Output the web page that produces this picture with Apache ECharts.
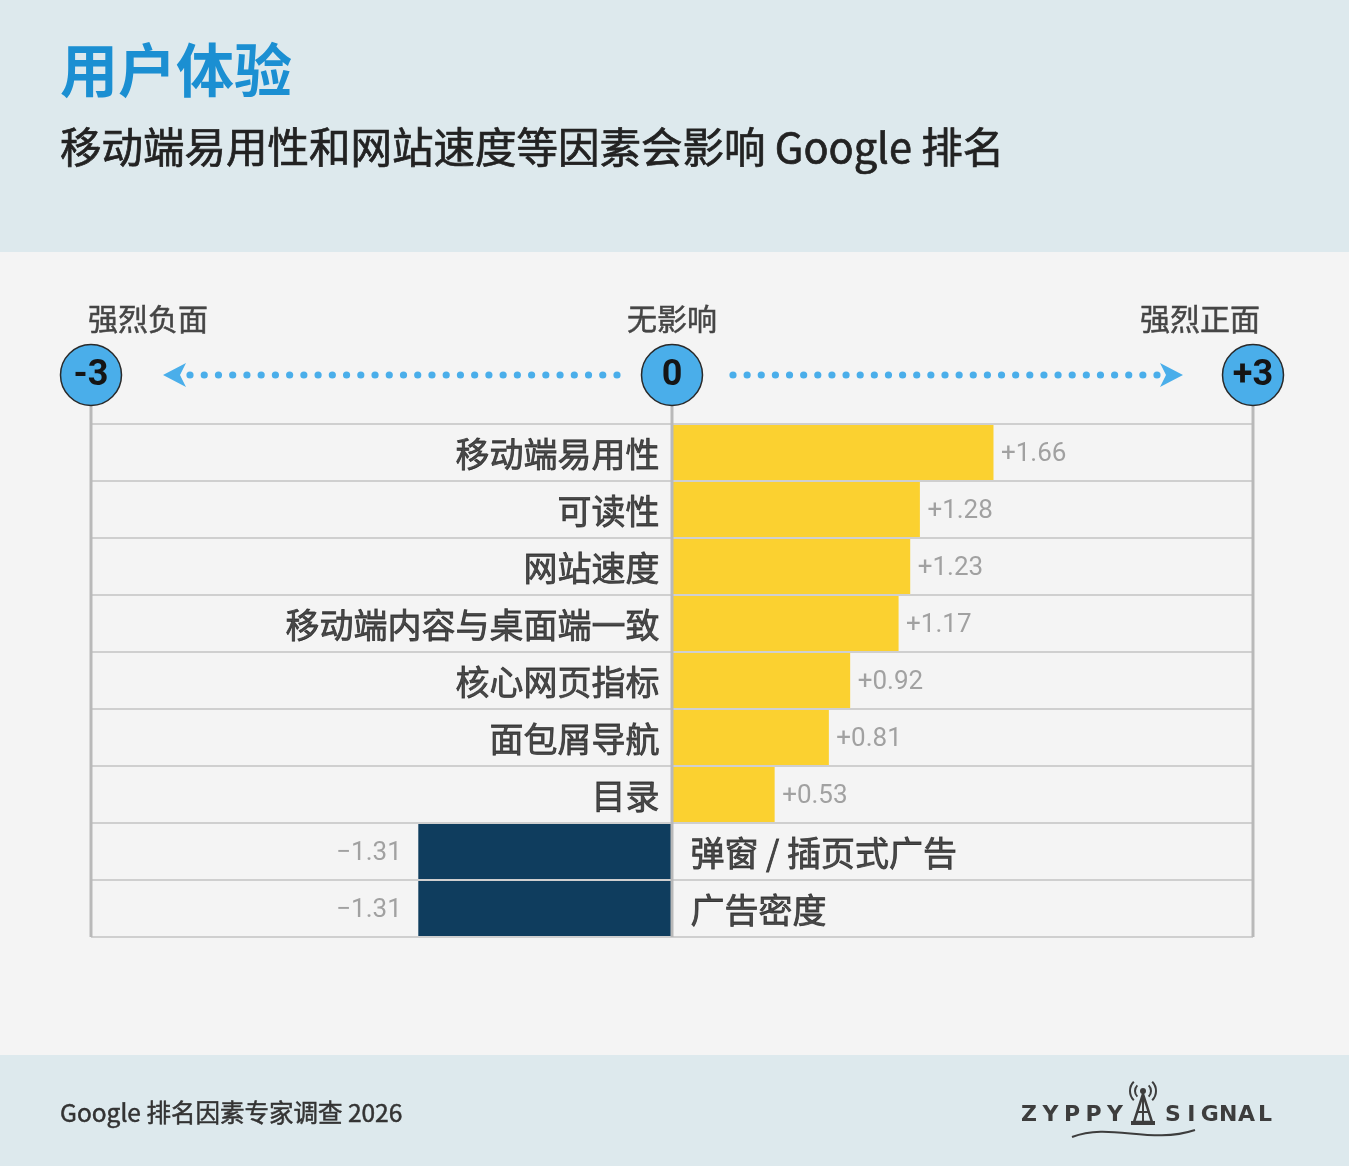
<!DOCTYPE html>
<html>
<head>
<meta charset="utf-8">
<script src="https://cdn.jsdelivr.net/npm/echarts@6/dist/echarts.min.js"></script>
<style>
html,body{margin:0;padding:0;background:#f4f4f4;}
#chart{width:1349px;height:1166px;}
</style>
</head>
<body>
<div id="chart"></div>
<script>
// ---- data ----
const categories = ['移动端易用性','可读性','网站速度','移动端内容与桌面端一致','核心网页指标','面包屑导航','目录','弹窗 / 插页式广告','广告密度'];
const values = [1.66, 1.28, 1.23, 1.17, 0.92, 0.81, 0.53, -1.31, -1.31];
const scaleTicks = [-3, 0, 3];
const scaleTickLabels = ['-3', '0', '+3'];
const scaleNames = ['强烈负面', '无影响', '强烈正面'];
const titleText = '用户体验';
const subtitleText = '移动端易用性和网站速度等因素会影响 Google 排名';
const sourceText = 'Google 排名因素专家调查 2026';

const POS = '#fbd130', NEG = '#0f3d5e';
const CJK = '"Noto Sans CJK SC", "Noto Sans", sans-serif';
const NUM = 'Roboto, "Noto Sans", sans-serif';

function fmt(v){ return v > 0 ? '+' + v.toFixed(2) : '\u2212' + Math.abs(v).toFixed(2); }

const chart = echarts.init(document.getElementById('chart'), null, {renderer:'canvas'});

const option = {
  backgroundColor: '#f4f4f4',
  animation: false,
  grid: {left: 91, right: 96, top: 424, height: 513, containLabel: false},
  xAxis: {
    type: 'value', min: -3, max: 3, interval: 3,
    axisLabel: {show: false}, axisLine: {show: false}, axisTick: {show: false},
    splitLine: {show: false}
  },
  yAxis: {
    type: 'category', data: categories, inverse: true,
    axisLabel: {show: false}, axisLine: {show: false}, axisTick: {show: false},
    splitLine: {show: true, interval: 0, lineStyle: {color: '#cfcfcf', width: 2}}
  },
  series: [
    {
      type: 'bar',
      data: values.map(v => ({value: v, itemStyle: {color: v >= 0 ? POS : NEG}})),
      barWidth: 55,
      z: 2
    },
    {
      type: 'scatter',
      data: values.map((v, i) => ({
        value: [0, categories[i]],
        label: {position: v >= 0 ? 'left' : 'right', distance: v >= 0 ? 12 : 18}
      })),
      symbolSize: 1,
      itemStyle: {color: 'transparent'},
      label: {show: true, offset: [0, 2], formatter: p => categories[p.dataIndex], fontFamily: CJK, fontSize: 34, color: '#1e1e1e', textBorderColor: '#1e1e1e', textBorderWidth: 0.8},
      z: 5
    },
    {
      type: 'scatter',
      data: values.map((v, i) => ({
        value: [v, categories[i]],
        label: {position: v >= 0 ? 'right' : 'left', distance: v >= 0 ? 7 : 16}
      })),
      symbolSize: 1,
      itemStyle: {color: 'transparent'},
      label: {show: true, offset: [0, 2], formatter: p => fmt(values[p.dataIndex]), fontFamily: NUM, fontSize: 26, color: '#8c8c8c'},
      z: 5
    }
  ]
};
chart.setOption(option);

// ---- decorations positioned through the axis scale ----
const xs = scaleTicks.map(t => chart.convertToPixel({xAxisIndex: 0}, t));
const gridBottom = 937;
const cy = 375, r = 30.5;
const L = xs[0], Z = xs[1], R = xs[2];
const g = [];

g.push({type:'rect', z:-10, shape:{x:0,y:0,width:1349,height:252}, style:{fill:'#dde9ed'}});
g.push({type:'rect', z:-10, shape:{x:0,y:1055,width:1349,height:111}, style:{fill:'#dde9ed'}});

g.push({type:'text', z:10, x:60, y:70, style:{text:titleText, font:'bold 58px ' + CJK, fill:'#1b8fd2', textVerticalAlign:'middle'}});
g.push({type:'text', z:10, x:60, y:147, style:{text:subtitleText, font:'41.5px ' + CJK, fill:'#222', stroke:'#222', lineWidth:0.7, textVerticalAlign:'middle'}});

const nameStyle = {font:'30px ' + CJK, fill:'#454545', stroke:'#454545', lineWidth:0.5, textVerticalAlign:'middle'};
g.push({type:'text', z:10, x:88, y:319, style:Object.assign({text:scaleNames[0], textAlign:'left'}, nameStyle)});
g.push({type:'text', z:10, x:Z, y:319, style:Object.assign({text:scaleNames[1], textAlign:'center'}, nameStyle)});
g.push({type:'text', z:10, x:1260, y:319, style:Object.assign({text:scaleNames[2], textAlign:'right'}, nameStyle)});

xs.forEach(x => {
  g.push({type:'line', z:20, shape:{x1:x, y1:cy + r, x2:x, y2:gridBottom}, style:{stroke:'#b9b9b9', lineWidth:3}});
});

xs.forEach((x, i) => {
  g.push({type:'circle', z:30, shape:{cx:x, cy:cy, r:r}, style:{fill:'#4aaeea', stroke:'#2a2a2a', lineWidth:1.5}});
  g.push({type:'text', z:31, x:x, y:cy + 1, style:{text:scaleTickLabels[i], font:'bold 36px ' + NUM, fill:'#151515', textAlign:'center', textVerticalAlign:'middle'}});
});

const DOT = '#4aaeea';
function dots(x0, x1, n){ for (let k = 0; k < n; k++) { const x = x0 + (x1 - x0) * k / (n - 1); g.push({type:'circle', z:10, shape:{cx:x, cy:cy, r:3.6}, style:{fill:DOT}}); } }
dots(L + 99, Z - 55, 31);
dots(Z + 61, R - 96, 31);
g.push({type:'polygon', z:10, shape:{points:[[L+72,cy],[L+95,cy-12],[L+89,cy],[L+95,cy+12]]}, style:{fill:DOT}});
g.push({type:'polygon', z:10, shape:{points:[[R-70,cy],[R-93,cy-12],[R-87,cy],[R-93,cy+12]]}, style:{fill:DOT}});

g.push({type:'text', z:10, x:60, y:1113, style:{text:sourceText, font:'24.5px ' + CJK, fill:'#333', stroke:'#333', lineWidth:0.5, textVerticalAlign:'middle'}});

// logo
const logoFont = 'bold 22px "DejaVu Sans", sans-serif';
[...'ZYPPY'].forEach((c, i) => g.push({type:'text', z:10, x:1029 + i*21.5, y:1115, style:{text:c, font:logoFont, fill:'#3d3d3d', textAlign:'center', textVerticalAlign:'middle'}}));
[...'SIGNAL'].forEach((c, i) => g.push({type:'text', z:10, x:1173 + i*18.4, y:1115, style:{text:c, font:logoFont, fill:'#3d3d3d', textAlign:'center', textVerticalAlign:'middle'}}));
g.push({type:'polygon', z:10, shape:{points:[[1143,1094],[1134,1122],[1152,1122]]}, style:{fill:'none', stroke:'#3d3d3d', lineWidth:2.5}});
g.push({type:'line', z:10, shape:{x1:1143,y1:1094,x2:1143,y2:1122}, style:{stroke:'#3d3d3d', lineWidth:2}});
g.push({type:'line', z:10, shape:{x1:1137,y1:1112,x2:1149,y2:1112}, style:{stroke:'#3d3d3d', lineWidth:2}});
g.push({type:'rect', z:10, shape:{x:1131,y:1121,width:24,height:4}, style:{fill:'#3d3d3d'}});
g.push({type:'circle', z:10, shape:{cx:1143,cy:1091,r:3}, style:{fill:'#3d3d3d'}});
[8, 13].forEach(rr => {
  g.push({type:'arc', z:10, shape:{cx:1143,cy:1091,r:rr,startAngle:Math.PI*0.75,endAngle:Math.PI*1.25}, style:{stroke:'#3d3d3d', lineWidth:2, fill:'none'}});
  g.push({type:'arc', z:10, shape:{cx:1143,cy:1091,r:rr,startAngle:-Math.PI*0.25,endAngle:Math.PI*0.25}, style:{stroke:'#3d3d3d', lineWidth:2, fill:'none'}});
});
g.push({type:'bezierCurve', z:10, shape:{x1:1072,y1:1137,x2:1195,y2:1130,cpx1:1110,cpy1:1122,cpx2:1150,cpy2:1145}, style:{stroke:'#3d3d3d', lineWidth:2, fill:'none'}});

chart.setOption({graphic: {elements: g}});
</script>
</body>
</html>
